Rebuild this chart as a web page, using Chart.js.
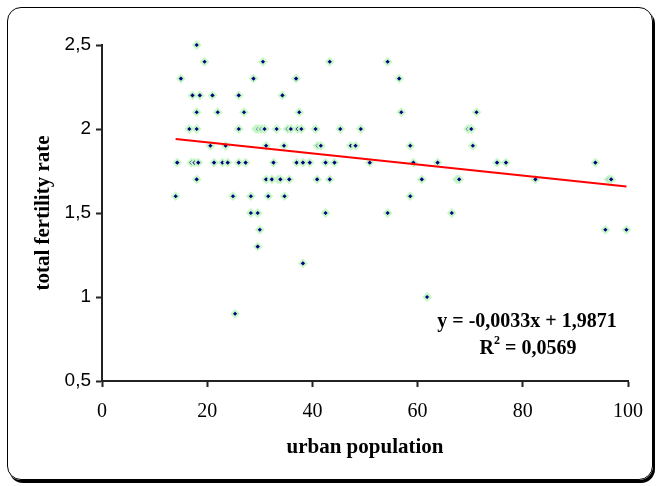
<!DOCTYPE html>
<html>
<head>
<meta charset="utf-8">
<script src="https://cdn.jsdelivr.net/npm/chart.js@4"></script>
<style>
  html, body { margin: 0; padding: 0; background: #fff; }
  #wrap { position: relative; width: 657px; height: 486px; }
  #frame {
    position: absolute; left: 7px; top: 7px; width: 644px; height: 471px;
    border: 1.5px solid #000; border-radius: 14px;
    box-shadow: 2px 3px 0 #000;
  }
  canvas { position: absolute; left: 0; top: 0; }
</style>
</head>
<body>
<div id="wrap">
  <div id="frame"></div>
  <canvas id="chart-scatter" width="657" height="486"></canvas>
</div>
<script>
// urban population (%) and total fertility rate, one entry per country
const urbanPopulation = [
  18.0,
  19.5, 30.6, 43.3, 54.3,
  15.0, 28.8, 36.9, 56.5,
  17.2, 18.6, 21.0, 26.0, 34.3,
  18.0, 22.0, 27.0, 37.5, 56.9, 71.2,
  16.6, 18.0, 26.0, 29.3, 29.7, 30.3, 30.9, 33.2, 35.3, 35.9, 37.2, 37.9, 40.6, 45.3, 49.2, 69.6, 70.2,
  20.6, 23.5, 31.2, 34.6, 41.0, 41.6, 47.3, 48.2, 58.6, 70.5,
  14.3, 17.0, 17.6, 18.3, 21.3, 22.9, 23.9, 26.0, 27.3, 32.6, 37.0, 38.2, 39.5, 42.5, 44.2, 50.9, 59.2, 63.8, 75.1, 76.8, 93.8,
  18.0, 31.2, 32.3, 33.5, 33.9, 35.6, 40.9, 43.3, 60.8, 67.5, 67.9, 82.4, 96.3, 96.8,
  14.0, 24.9, 28.3, 31.6, 34.7, 58.6,
  28.3, 29.6, 42.5, 54.3, 66.5,
  30.0, 95.7, 99.7,
  29.6,
  38.2,
  61.8,
  25.3,
];
const fertilityRate = [
  2.5,
  2.4, 2.4, 2.4, 2.4,
  2.3, 2.3, 2.3, 2.3,
  2.2, 2.2, 2.2, 2.2, 2.2,
  2.1, 2.1, 2.1, 2.1, 2.1, 2.1,
  2.0, 2.0, 2.0, 2.0, 2.0, 2.0, 2.0, 2.0, 2.0, 2.0, 2.0, 2.0, 2.0, 2.0, 2.0, 2.0, 2.0,
  1.9, 1.9, 1.9, 1.9, 1.9, 1.9, 1.9, 1.9, 1.9, 1.9,
  1.8, 1.8, 1.8, 1.8, 1.8, 1.8, 1.8, 1.8, 1.8, 1.8, 1.8, 1.8, 1.8, 1.8, 1.8, 1.8, 1.8, 1.8, 1.8, 1.8, 1.8,
  1.7, 1.7, 1.7, 1.7, 1.7, 1.7, 1.7, 1.7, 1.7, 1.7, 1.7, 1.7, 1.7, 1.7,
  1.6, 1.6, 1.6, 1.6, 1.6, 1.6,
  1.5, 1.5, 1.5, 1.5, 1.5,
  1.4, 1.4, 1.4,
  1.3,
  1.2,
  1.0,
  0.9,
];

// linear trendline end points as drawn
const trendX = [14.0, 99.7];
const trendY = [1.941, 1.658];

const equationLines = ["y = -0,0033x + 1,9871", "R", " = 0,0569"];

const xTicks = [0, 20, 40, 60, 80, 100];
const yTicks = [0.5, 1, 1.5, 2, 2.5];

const COLORS = {
  marker: "#000080",
  halo: "#c6f7c6",
  trend: "#ff0000",
  axis: "#222222",
  text: "#000000",
};

const SERIF = "'Liberation Serif', 'Times New Roman', serif";
const SANS = "'Liberation Sans', Arial, sans-serif";

const equationPlugin = {
  id: "equation",
  afterDraw(chart) {
    const ctx = chart.ctx;
    const big = "bold 20px " + SERIF;
    const small = "bold 12px " + SERIF;
    ctx.save();
    ctx.fillStyle = COLORS.text;
    ctx.textBaseline = "middle";
    ctx.font = big;
    ctx.textAlign = "center";
    ctx.fillText(equationLines[0], 527, 322);
    // R² line
    const w1 = ctx.measureText(equationLines[1]).width;
    ctx.font = small;
    const w2 = ctx.measureText("2").width;
    ctx.font = big;
    const w3 = ctx.measureText(equationLines[2]).width;
    const x = 528 - (w1 + w2 + w3) / 2;
    ctx.textAlign = "left";
    ctx.fillText(equationLines[1], x, 349);
    ctx.font = small;
    ctx.fillText("2", x + w1, 341);
    ctx.font = big;
    ctx.fillText(equationLines[2], x + w1 + w2, 349);
    ctx.restore();
  },
};

function initChart() {
  const points = urbanPopulation.map((x, i) => ({ x: x, y: fertilityRate[i] }));
  const trend = trendX.map((x, i) => ({ x: x, y: trendY[i] }));

  new Chart(document.getElementById("chart-scatter"), {
    type: "scatter",
    data: {
      datasets: [
        {
          label: "trend",
          type: "line",
          data: trend,
          borderColor: COLORS.trend,
          borderWidth: 2,
          pointRadius: 0,
          fill: false,
          order: 0,
        },
        {
          label: "countries",
          data: points,
          pointStyle: "rectRot",
          pointRadius: 3.5,
          backgroundColor: COLORS.marker,
          borderColor: COLORS.halo,
          borderWidth: 2,
          clip: false,
          order: 1,
        },
      ],
    },
    options: {
      responsive: false,
      animation: false,
      events: [],
      layout: { padding: { left: 0, top: 45, right: 29, bottom: 0 } },
      plugins: { legend: { display: false }, tooltip: { enabled: false } },
      scales: {
        x: {
          type: "linear",
          min: 0,
          max: 100,
          afterBuildTicks(scale) {
            scale.ticks = xTicks.map((v) => ({ value: v }));
          },
          afterFit(scale) {
            scale.height = 105;
          },
          border: { color: COLORS.axis, width: 2 },
          grid: { drawOnChartArea: false, tickLength: 6, color: COLORS.axis, tickWidth: 2 },
          ticks: {
            color: COLORS.text,
            padding: 13,
            maxRotation: 0,
            font: { family: SERIF, size: 20 },
          },
          title: {
            display: true,
            text: "urban population",
            color: COLORS.text,
            font: { family: SERIF, size: 21, weight: "bold" },
            padding: { top: 0, bottom: 26 },
          },
        },
        y: {
          type: "linear",
          min: 0.5,
          max: 2.5,
          afterBuildTicks(scale) {
            scale.ticks = yTicks.map((v) => ({ value: v }));
          },
          afterFit(scale) {
            scale.width = 102;
          },
          border: { color: COLORS.axis, width: 2 },
          grid: { drawOnChartArea: false, tickLength: 6, color: COLORS.axis, tickWidth: 2 },
          ticks: {
            color: COLORS.text,
            padding: 5,
            font: { family: SANS, size: 19 },
            callback: (v) => String(v).replace(".", ","),
          },
          title: {
            display: true,
            text: "total fertility rate",
            color: COLORS.text,
            font: { family: SERIF, size: 21, weight: "bold" },
            padding: { top: 31, bottom: 0 },
          },
        },
      },
    },
    plugins: [equationPlugin],
  });
}

document.addEventListener("DOMContentLoaded", initChart);
</script>
</body>
</html>
